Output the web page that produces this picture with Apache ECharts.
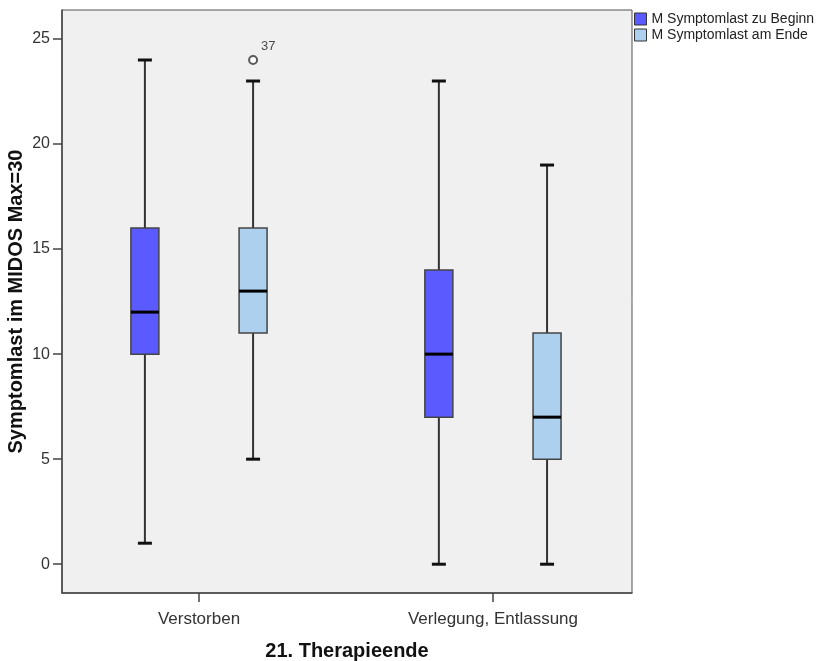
<!DOCTYPE html>
<html>
<head>
<meta charset="utf-8">
<script src="https://cdn.jsdelivr.net/npm/echarts@6/dist/echarts.min.js"></script>
<style>
  html, body { margin: 0; padding: 0; background: #fff; }
  #chart { width: 819px; height: 661px; }
</style>
</head>
<body>
<div id="chart"></div>
<script>
// categories on the x axis and their positions
const categories = ["Verstorben", "Verlegung, Entlassung"];
const groupPos = [1, 2];
const seriesNames = ["M Symptomlast zu Beginn", "M Symptomlast am Ende"];

// [min, Q1, median, Q3, max] per category
const beginStats = [[1, 10, 12, 16, 24], [0, 7, 10, 14, 23]];
const endStats = [[5, 11, 13, 16, 23], [0, 5, 7, 11, 19]];

// outliers: [category index, series index, value, case label]
const outliers = [[0, 1, 24, "37"]];

const yTicks = [0, 5, 10, 15, 20, 25];

const FONT = "Liberation Sans";
const OFFSET = 0.184;   // half distance between the two boxes of a group (x units)
const BOX_W = 28;
const CAP_W = 14;

function boxData(stats) {
  return stats.map((s, i) => [groupPos[i]].concat(s));
}

function makeRender(offset) {
  return function (params, api) {
    const x = api.value(0) + offset;
    const pMin = api.coord([x, api.value(1)]);
    const pQ1 = api.coord([x, api.value(2)]);
    const pMed = api.coord([x, api.value(3)]);
    const pQ3 = api.coord([x, api.value(4)]);
    const pMax = api.coord([x, api.value(5)]);
    const cx = pMin[0];
    const lineStyle = { stroke: "#333", lineWidth: 2 };
    return {
      type: "group",
      children: [
        { type: "line", shape: { x1: cx, y1: pMax[1], x2: cx, y2: pQ3[1] }, style: lineStyle },
        { type: "line", shape: { x1: cx, y1: pQ1[1], x2: cx, y2: pMin[1] }, style: lineStyle },
        { type: "line", shape: { x1: cx - CAP_W / 2, y1: pMax[1], x2: cx + CAP_W / 2, y2: pMax[1] }, style: { stroke: "#111", lineWidth: 3 } },
        { type: "line", shape: { x1: cx - CAP_W / 2, y1: pMin[1], x2: cx + CAP_W / 2, y2: pMin[1] }, style: { stroke: "#111", lineWidth: 3 } },
        {
          type: "rect",
          shape: { x: cx - BOX_W / 2, y: pQ3[1], width: BOX_W, height: pQ1[1] - pQ3[1] },
          style: { fill: api.visual("color"), stroke: "#444", lineWidth: 1.5 }
        },
        { type: "line", shape: { x1: cx - BOX_W / 2, y1: pMed[1], x2: cx + BOX_W / 2, y2: pMed[1] }, style: { stroke: "#000", lineWidth: 3 } }
      ]
    };
  };
}

const offsets = [-OFFSET, OFFSET];
const outlierData = outliers.map(o => ({ value: [groupPos[o[0]] + offsets[o[1]], o[2]], name: o[3] }));

const chart = echarts.init(document.getElementById("chart"));
chart.setOption({
  animation: false,
  textStyle: { fontFamily: FONT },
  grid: {
    left: 62, right: 187, top: 10, bottom: 68,
    outerBoundsMode: "none",
    show: true, backgroundColor: "#f0f0f0", borderColor: "#555", borderWidth: 1
  },
  legend: {
    orient: "vertical",
    left: 629, top: 7,
    itemWidth: 12, itemHeight: 12, itemGap: 2,
    icon: "rect",
    data: seriesNames,
    textStyle: { fontFamily: FONT, fontSize: 14, color: "#222" },
    itemStyle: { borderColor: "#333", borderWidth: 1 }
  },
  xAxis: {
    type: "value",
    min: 0.534, max: 2.473,
    name: "21. Therapieende",
    nameLocation: "middle",
    nameGap: 48,
    nameMoveOverlap: false,
    nameTextStyle: { fontFamily: FONT, fontSize: 20, fontWeight: "bold", color: "#111" },
    axisLine: { show: true, onZero: false, lineStyle: { color: "#444", width: 1.5 } },
    axisTick: { show: true, customValues: groupPos, length: 9, lineStyle: { color: "#444", width: 1.5 } },
    axisLabel: {
      customValues: groupPos, margin: 18, fontSize: 17, color: "#333",
      formatter: v => categories[groupPos.indexOf(v)]
    },
    splitLine: { show: false }
  },
  yAxis: {
    type: "value",
    min: -1.37, max: 26.38,
    name: "Symptomlast im MIDOS Max=30",
    nameLocation: "middle",
    nameGap: 36,
    nameMoveOverlap: false,
    nameTextStyle: { fontFamily: FONT, fontSize: 20, fontWeight: "bold", color: "#111" },
    axisLine: { show: true, onZero: false, lineStyle: { color: "#444", width: 1.5 } },
    axisTick: { show: true, customValues: yTicks, length: 9, lineStyle: { color: "#444", width: 1.5 } },
    axisLabel: { customValues: yTicks, margin: 12, fontSize: 16, color: "#333" },
    splitLine: { show: false }
  },
  series: [
    {
      name: seriesNames[0], type: "custom",
      itemStyle: { color: "#5a5aff" },
      renderItem: makeRender(offsets[0]),
      encode: { x: 0, y: [1, 2, 3, 4, 5] },
      data: boxData(beginStats)
    },
    {
      name: seriesNames[1], type: "custom",
      itemStyle: { color: "#acd0ee" },
      renderItem: makeRender(offsets[1]),
      encode: { x: 0, y: [1, 2, 3, 4, 5] },
      data: boxData(endStats)
    },
    {
      type: "scatter",
      symbol: "emptyCircle", symbolSize: 8,
      itemStyle: { color: "#333", borderWidth: 1.5 },
      label: {
        show: true, position: "right", offset: [-2, -14],
        formatter: p => p.name, fontSize: 13, color: "#222"
      },
      data: outlierData
    }
  ]
});
</script>
</body>
</html>
